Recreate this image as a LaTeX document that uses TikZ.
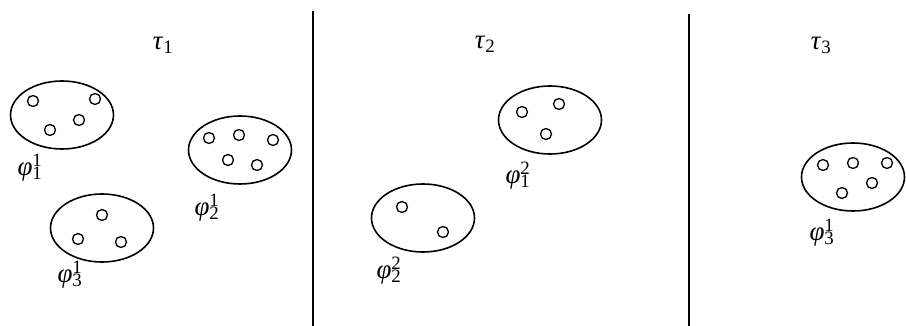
\documentclass[tikz,border=0pt]{standalone}
\usepackage{fontspec}
\setmainfont{Liberation Serif}
\usetikzlibrary{shapes.geometric}

\newcommand{\marke}[3]{\textit{#1}\rlap{\textsuperscript{#3}}\textsubscript{#2}}

\tikzset{
    menge/.style={ellipse, draw, line width=1.6pt, minimum width=103pt, minimum height=68pt, inner sep=0pt},
    punkt/.style={circle, draw, line width=1.3pt, minimum size=11pt, inner sep=0pt},
    schrift/.style={inner sep=0pt, font=\fontsize{27}{31}\selectfont},
    trenner/.style={line width=1.6pt}
}

\begin{document}
\begin{tikzpicture}[x=1pt, y=-1pt]
    \useasboundingbox (0,0) rectangle (906,326);
    % Trennlinien
    \coordinate (T1o) at (313,11);
    \coordinate (T1u) at (313,326);
    \coordinate (T2o) at (689,14);
    \coordinate (T2u) at (689,326);
    \draw[trenner] (T1o) -- (T1u);
    \draw[trenner] (T2o) -- (T2u);
    % Zeitabschnitte
    \path node[schrift] (tau1) at (163,45) {\marke{τ}{1}{}}
        node[schrift] (tau2) at (485,44) {\marke{τ}{2}{}}
        node[schrift] (tau3) at (821,45) {\marke{τ}{3}{}};
    % Mengen in tau 1
    \path node[menge] (M11) at (62,115) {}
        node[menge] (M21) at (240,150) {}
        node[menge] (M31) at (102,228) {};
    \path node[punkt] at (33,101) {}
        node[punkt] at (95,99) {}
        node[punkt] at (50,130) {}
        node[punkt] at (79,120) {};
    \path node[punkt] at (209,138) {}
        node[punkt] at (239,135) {}
        node[punkt] at (273,140) {}
        node[punkt] at (228,160) {}
        node[punkt] at (257,165) {};
    \path node[punkt] at (102,215) {}
        node[punkt] at (78,239) {}
        node[punkt] at (121,242) {};
    \path node[schrift] (L11) at (30,168) {\marke{φ}{1}{1}}
        node[schrift] (L21) at (207,208) {\marke{φ}{2}{1}}
        node[schrift] (L31) at (70,275) {\marke{φ}{3}{1}};
    % Mengen in tau 2
    \path node[menge] (M12) at (550,120) {}
        node[menge] (M22) at (423,218) {};
    \path node[punkt] at (522,112) {}
        node[punkt] at (559,104) {}
        node[punkt] at (546,134) {};
    \path node[punkt] at (402,207) {}
        node[punkt] at (443,232) {};
    \path node[schrift] (L12) at (518,176) {\marke{φ}{1}{2}}
        node[schrift] (L22) at (389,271) {\marke{φ}{2}{2}};
    % Menge in tau 3
    \path node[menge] (M33) at (853,177) {};
    \path node[punkt] at (823,165) {}
        node[punkt] at (853,163) {}
        node[punkt] at (887,163) {}
        node[punkt] at (842,193) {}
        node[punkt] at (872,183) {};
    \path node[schrift] (L33) at (822,233) {\marke{φ}{3}{1}};
\end{tikzpicture}
\end{document}
